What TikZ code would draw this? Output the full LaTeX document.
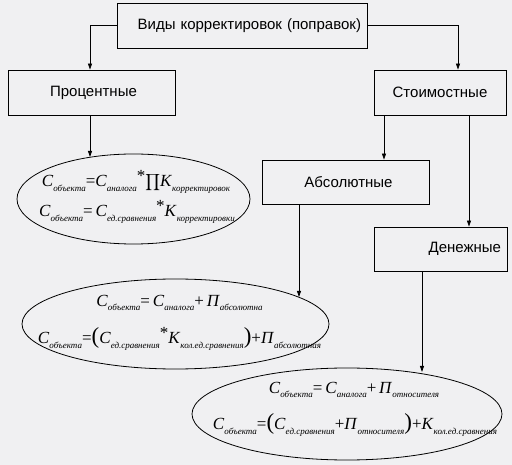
\documentclass[tikz,border=0pt]{standalone}
\usepackage{fontspec}
\setmainfont{Liberation Serif}
\newfontfamily\boxfont{Liberation Sans}
\usetikzlibrary{arrows.meta,shapes.geometric}
\definecolor{bgc}{HTML}{F0F0F2}
\newcommand{\Fv}[2]{\textit{#1}\raisebox{-0.28em}{\fontsize{9}{9}\selectfont\itshape #2}}
\newcommand{\Fst}{\raisebox{0.3em}{*}}
\newcommand{\Fbig}[1]{{\fontsize{23}{23}\selectfont #1}}
\begin{document}
\begin{tikzpicture}[x=1pt,y=-1pt,
  box/.style={draw,line width=0.8pt,rectangle,inner sep=0pt,font=\boxfont\fontsize{15}{15}\selectfont},
  ell/.style={draw,line width=0.8pt,ellipse,inner sep=0pt},
  frm/.style={inner sep=0pt,font=\fontsize{17}{17}\selectfont},
  arr/.style={line width=0.8pt,-{Triangle[length=6pt,width=4pt]}},
  ln/.style={line width=0.8pt}]
\fill[bgc] (0,0) rectangle (512,465);
\useasboundingbox (0,0) rectangle (512,465);
% boxes
\node[box,minimum width=250pt,minimum height=45pt,text width=238pt,align=right] (top) at (242,25.5) {Виды корректировок (поправок)};
\node[box,minimum width=167pt,minimum height=45pt] (proc) at (91.5,92.5) {\hspace*{4pt}Процентные};
\node[box,minimum width=132pt,minimum height=45pt] (stoim) at (440,92.5) {Стоимостные};
\node[box,minimum width=167pt,minimum height=44pt] (abs) at (345.5,182) {\hspace*{6pt}Абсолютные};
\node[box,minimum width=133pt,minimum height=44pt,text width=121pt,align=right] (den) at (440.5,249) {Денежные};
% ellipses
\node[ell,minimum width=233pt,minimum height=90pt] (e1) at (133.5,199) {};
\node[ell,minimum width=307pt,minimum height=90pt] (e2) at (175.5,324) {};
\node[ell,minimum width=310pt,minimum height=92pt] (e3) at (347,414) {};
\coordinate (t1) at (90,157);
\coordinate (t2) at (299,297);
\coordinate (t3) at (422,372);
% formulas
\node[frm] (f1a) at (136,182) {\Fv{C}{объекта}=\Fv{C}{аналога}\Fst\raisebox{-0.05em}{\scalebox{1.15}{$\displaystyle\prod$}}\Fv{K}{корректировок}};
\node[frm] (f1b) at (137,212) {\Fv{C}{объекта}=\,\Fv{C}{ед.сравнения}\Fst\Fv{K}{корректировки}};
\node[frm] (f2a) at (179.5,303) {\Fv{C}{объекта}=\,\Fv{C}{аналога}+\,\Fv{П}{абсолютна}};
\node[frm] (f2b) at (179.5,339) {\Fv{C}{объекта}=\Fbig{(}\Fv{C}{ед.сравнения}\Fst\Fv{K}{кол.ед.сравнения}\Fbig{)}+\Fv{П}{абсолютная}};
\node[frm] (f3a) at (354,390) {\Fv{C}{объекта}=\,\Fv{C}{аналога}+\,\Fv{П}{относителя}};
\node[frm] (f3b) at (355,425) {\Fv{C}{объекта}=\Fbig{(}\Fv{C}{ед.сравнения}+\Fv{П}{относителя}\Fbig{)}+\Fv{K}{кол.ед.сравнения}};
% connectors
\draw[arr] (top.west) -| ([xshift=-1.5pt]proc.north);
\draw[arr] (top.east) -| ([xshift=18pt]stoim.north);
\draw[arr] ([xshift=-56pt]stoim.south) -- ([xshift=-56pt]stoim.south |- abs.north);
\draw[arr] ([xshift=29pt]stoim.south) -- ([xshift=29pt]stoim.south |- den.north);
\draw[arr] ([xshift=-1.5pt]proc.south) -- ([xshift=-1.5pt]proc.south |- t1);
\draw[arr] ([xshift=-46.5pt]abs.south) -- ([xshift=-46.5pt]abs.south |- t2);
\draw[arr] ([xshift=-18.5pt]den.south) -- ([xshift=-18.5pt]den.south |- t3);
\end{tikzpicture}
\end{document}
